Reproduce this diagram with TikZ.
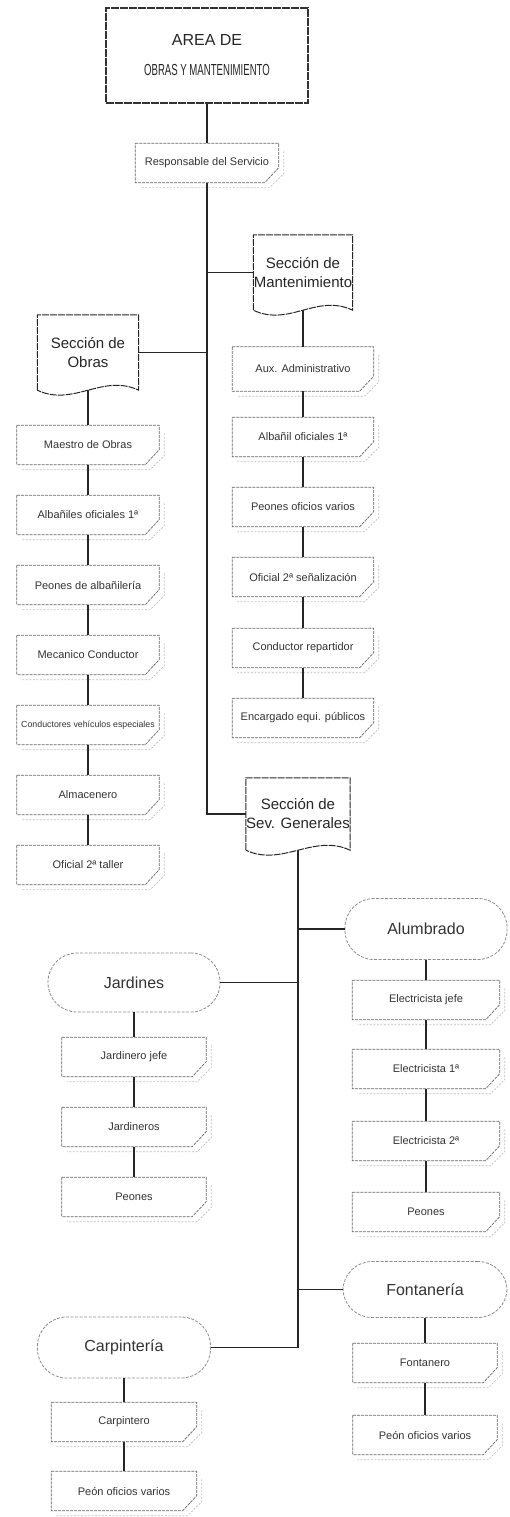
\documentclass[tikz,border=0pt]{standalone}
\usepackage{fontspec}
\usepackage{graphicx}
\setmainfont{Liberation Sans}
\usetikzlibrary{calc}
\begin{document}
\begin{tikzpicture}[x=1pt,y=-1pt]
\tikzset{
  card/.style={draw=none, minimum width=143pt, minimum height=39pt, inner sep=0pt,
    font=\fontsize{11}{13}\selectfont, text=black!80},
  cardline/.style={draw=black!60, dash pattern=on 3pt off 1pt, line width=0.7pt},
  shadowline/.style={draw=black!25, dash pattern=on 2pt off 1.5pt, line width=0.6pt},
  doc/.style={draw=none, minimum width=100pt, minimum height=75pt, inner sep=0pt,
    font=\fontsize{15}{19}\selectfont, align=center, text=black!85},
  docline/.style={draw=black!85, line width=1pt, dash pattern=on 7pt off 1pt},
  pill/.style={draw=black!45, dash pattern=on 3pt off 1.5pt, line width=0.8pt,
    rounded corners=29pt, minimum height=59pt, inner sep=0pt,
    font=\fontsize{16}{19}\selectfont, text=black!80},
  topbox/.style={draw=black!80, dash pattern=on 8pt off 1pt, line width=1.2pt,
    minimum width=202pt, minimum height=95pt, inner sep=0pt, align=center,
    font=\fontsize{16}{30}\selectfont, text=black!85},
  conn/.style={draw=black!85, line width=1.1pt}
}
\useasboundingbox (0,0) rectangle (510,1517);

% top
\node[topbox] (area) at (207,55.5) {AREA DE\\\scalebox{0.6}[1]{OBRAS Y MANTENIMIENTO}};
\node[card] (resp) at (207,163) {Responsable del Servicio};

% sections (document shapes)
\node[doc, minimum width=99pt] (mant) at (303,272.5) {Sección de\\Mantenimiento};
\node[doc, minimum width=101pt] (obras) at (88,352.5) {Sección de\\Obras};
\node[doc, minimum width=99pt, minimum height=72pt] (gen) at (298,814) {Sección de\\Sev. Generales};

% Mantenimiento column
\node[card, minimum width=141pt, minimum height=44pt] (aux) at (303,369) {Aux. Administrativo};
\node[card, minimum width=141pt] (albm) at (303,437) {Albañil oficiales 1ª};
\node[card, minimum width=141pt] (peom) at (303,507) {Peones oficios varios};
\node[card, minimum width=141pt] (ofis) at (303,577) {Oficial 2ª señalización};
\node[card, minimum width=141pt] (conr) at (303,648) {Conductor repartidor};
\node[card, minimum width=141pt] (encp) at (303,718) {Encargado equi. públicos};

% Obras column
\node[card, minimum width=142pt] (maes) at (88,445) {Maestro de Obras};
\node[card, minimum width=142pt] (albo) at (88,515) {Albañiles oficiales 1ª};
\node[card, minimum width=142pt] (peoa) at (88,585) {Peones de albañilería};
\node[card, minimum width=142pt] (meca) at (88,655) {Mecanico Conductor};
\node[card, minimum width=142pt, font=\fontsize{8.8}{11}\selectfont] (cond) at (88,725) {Conductores vehículos especiales};
\node[card, minimum width=142pt] (alma) at (88,795) {Almacenero};
\node[card, minimum width=142pt] (ofit) at (88,865) {Oficial 2ª taller};

% Servicios generales groups
\node[pill, minimum width=162pt, minimum height=61pt] (alum) at (426,929) {Alumbrado};
\node[pill, minimum width=172pt] (jard) at (134,982.5) {Jardines};
\node[pill, minimum width=164pt, minimum height=56pt] (font) at (425,1289.5) {Fontanería};
\node[pill, minimum width=173pt, minimum height=61pt] (carp) at (124,1347.5) {Carpintería};

% Alumbrado column
\node[card, minimum width=147pt] (ejef) at (426,1000) {Electricista jefe};
\node[card, minimum width=147pt] (eun) at (426,1069) {Electricista 1ª};
\node[card, minimum width=147pt] (edos) at (426,1141) {Electricista 2ª};
\node[card, minimum width=147pt] (peal) at (426,1212) {Peones};

% Jardines column
\node[card, minimum width=144pt] (jjef) at (134,1057) {Jardinero jefe};
\node[card, minimum width=144pt] (jros) at (134,1127) {Jardineros};
\node[card, minimum width=144pt] (pejd) at (134,1197) {Peones};

% Fontaneria column
\node[card, minimum width=144pt] (fton) at (425,1363) {Fontanero};
\node[card, minimum width=144pt] (pefo) at (425,1435) {Peón oficios varios};

% Carpinteria column
\node[card, minimum width=145pt] (cpro) at (124,1422) {Carpintero};
\node[card, minimum width=145pt] (peca) at (124,1491) {Peón oficios varios};

% card outlines with faint shadow
\foreach \n in {resp,aux,albm,peom,ofis,conr,encp,maes,albo,peoa,meca,cond,alma,ofit,
                ejef,eun,edos,peal,jjef,jros,pejd,fton,pefo,cpro,peca}{
  \draw[shadowline] ([xshift=5pt,yshift=-8pt]\n.north east) -- ([xshift=5pt,yshift=9pt]\n.south east)
     -- ([xshift=-9pt,yshift=-5pt]\n.south east) -- ([xshift=5pt,yshift=-5pt]\n.south west);
  \draw[cardline] (\n.north west) -- (\n.north east) -- ([yshift=15pt]\n.south east)
     -- ([xshift=-14pt]\n.south east) -- (\n.south west) -- cycle;
}

% document outlines
\foreach \n in {mant,obras,gen}{
  \draw[docline] (\n.south west) -- (\n.north west) -- (\n.north east) -- (\n.south east)
     .. controls ([xshift=-36pt,yshift=17pt]\n.south east) and ([xshift=36pt,yshift=-17pt]\n.south west)
     .. (\n.south west);
}

% connectors
\draw[conn] (area) -- (resp);
\draw[conn] (resp.south) -- (resp.south |- gen.west) -- (gen.west);
\draw[conn] (mant.west) -- (mant.west -| resp.south);
\draw[conn] (obras.east) -- (obras.east -| resp.south);

\draw[conn] (mant.south) -- (aux.north);
\draw[conn] (aux) -- (albm);
\draw[conn] (albm) -- (peom);
\draw[conn] (peom) -- (ofis);
\draw[conn] (ofis) -- (conr);
\draw[conn] (conr) -- (encp);

\draw[conn] (obras.south) -- (maes.north);
\draw[conn] (maes) -- (albo);
\draw[conn] (albo) -- (peoa);
\draw[conn] (peoa) -- (meca);
\draw[conn] (meca) -- (cond);
\draw[conn] (cond) -- (alma);
\draw[conn] (alma) -- (ofit);

\draw[conn] (gen.south) -- (gen.south |- carp.east) -- (carp.east);
\draw[conn] (alum.west) -- (alum.west -| gen.south);
\draw[conn] (jard.east) -- (jard.east -| gen.south);
\draw[conn] (font.west) -- (font.west -| gen.south);

\draw[conn] (alum) -- (ejef);
\draw[conn] (ejef) -- (eun);
\draw[conn] (eun) -- (edos);
\draw[conn] (edos) -- (peal);

\draw[conn] (jard) -- (jjef);
\draw[conn] (jjef) -- (jros);
\draw[conn] (jros) -- (pejd);

\draw[conn] (font) -- (fton);
\draw[conn] (fton) -- (pefo);

\draw[conn] (carp) -- (cpro);
\draw[conn] (cpro) -- (peca);
\end{tikzpicture}
\end{document}
